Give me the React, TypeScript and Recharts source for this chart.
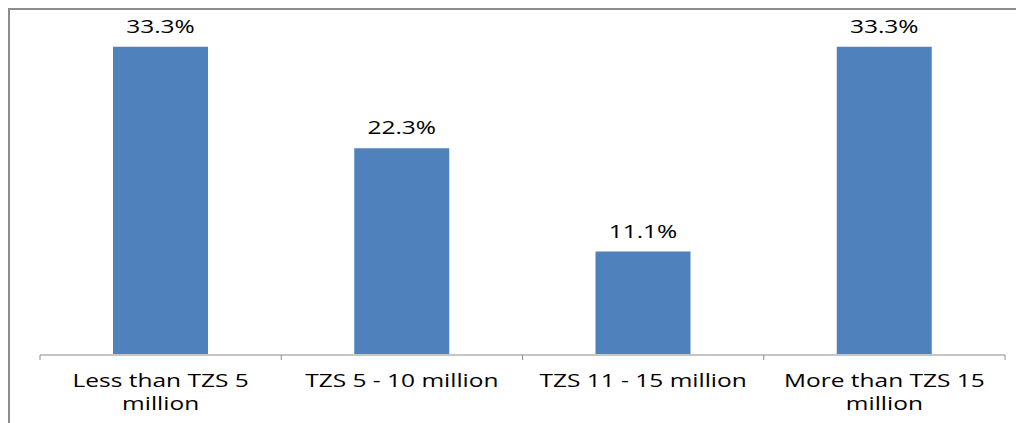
import { BarChart, Bar, XAxis, YAxis, LabelList } from 'recharts';

const categories = ['Less than TZS 5 million', 'TZS 5 - 10 million', 'TZS 11 - 15 million', 'More than TZS 15 million'];
const shares = [33.3, 22.3, 11.1, 33.3];
const boundaryTicks = [0, 1, 2, 3, 4];

// slot: position of each category on the boundary-tick axis (centre of its band)
const chartData = categories.map((name, i) => ({ name, share: shares[i], slot: i + 0.5 }));

const FONT = '"Open Sans", Arial, sans-serif';
const STRETCH = 1.4;

// wrap a label into lines of at most maxChars characters
function wrap(text: string, maxChars = 19): string[] {
  const lines: string[] = [];
  let cur = '';
  for (const word of text.split(' ')) {
    const next = cur ? `${cur} ${word}` : word;
    if (next.length > maxChars && cur) {
      lines.push(cur);
      cur = word;
    } else {
      cur = next;
    }
  }
  if (cur) lines.push(cur);
  return lines;
}

function CategoryTick(props: any) {
  const { x, y, payload } = props;
  const lines = wrap(String(payload.value));
  return (
    <g>
      {lines.map((line, i) => (
        <text
          key={i}
          x={0}
          y={0}
          transform={`translate(${x},${y + 31 + i * 23}) scale(${STRETCH},1)`}
          textAnchor="middle"
          fontFamily={FONT}
          fontSize={17.5}
          fill="#000"
        >
          {line}
        </text>
      ))}
    </g>
  );
}

function ValueLabel(props: any) {
  const { x, y, width, value } = props;
  return (
    <text
      x={0}
      y={0}
      transform={`translate(${x + width / 2},${y - 14}) scale(${STRETCH},1)`}
      textAnchor="middle"
      fontFamily={FONT}
      fontSize={17.5}
      fill="#000"
    >
      {`${Number(value).toFixed(1)}%`}
    </text>
  );
}

export default function App() {
  return (
    <div
      style={{
        width: 1016,
        height: 415,
        boxSizing: 'border-box',
        borderLeft: '2px solid #8c8c8c',
        borderTop: '2px solid #8c8c8c',
        background: '#fff',
        overflow: 'hidden',
      }}
    >
      <style>{'html,body{overflow:hidden}'}</style>
      <BarChart
        width={1014}
        height={413}
        data={chartData}
        margin={{ top: 21, right: 19, bottom: 67, left: 30 }}
        barSize={95}
      >
        {/* boundary ticks between categories, like the spreadsheet axis */}
        <XAxis
          xAxisId="edges"
          dataKey="slot"
          type="number"
          domain={[0, 4]}
          ticks={boundaryTicks}
          allowDataOverflow
          height={1}
          tickSize={5}
          stroke="#8c8c8c"
          tickFormatter={() => ''}
        />
        <XAxis
          dataKey="name"
          height={1}
          axisLine={false}
          tickLine={false}
          tickSize={0}
          interval={0}
          tick={<CategoryTick />}
        />
        <YAxis hide domain={[0, 35]} />
        <Bar dataKey="share" fill="#4f81bd" isAnimationActive={false}>
          <LabelList dataKey="share" content={<ValueLabel />} />
        </Bar>
      </BarChart>
    </div>
  );
}
